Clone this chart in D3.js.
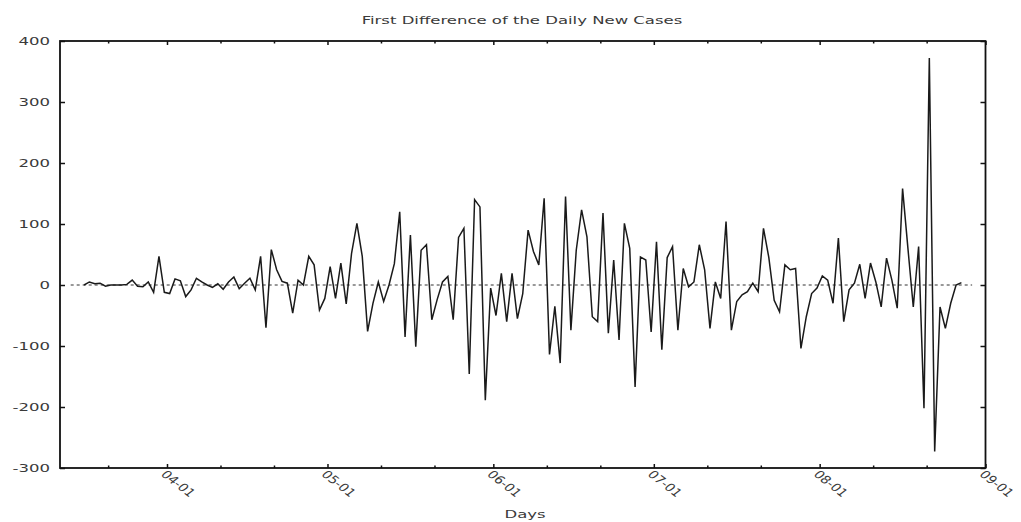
<!DOCTYPE html>
<html>
<head>
<meta charset="utf-8">
<script src="https://d3js.org/d3.v7.min.js"></script>
<style>
  body { margin: 0; background: #fff; }
  text { font-family: "DejaVu Sans", sans-serif; fill: #3a3a3a; }
</style>
</head>
<body>
<script>
// Chart data: first difference of daily new cases, one value per day from 03-16
var firstDay = "2020-03-16";
var values = [
  0, 5, 2, 3, -2, 0, 0, 0, 1, 8,
  -2, -3, 5, -12, 47, -12, -14, 10, 7, -19,
  -8, 11, 5, 0, -4, 2, -7, 5, 13, -6,
  3, 11, -8, 47, -70, 58, 25, 6, 3, -46,
  8, 0, 47, 33, -41, -22, 30, -22, 36, -31,
  52, 101, 47, -76, -30, 5, -27, 0, 35, 120,
  -85, 82, -101, 57, 66, -57, -24, 5, 14, -57,
  78, 93, -146, 140, 128, -189, -5, -50, 19, -60,
  19, -55, -14, 90, 55, 33, 142, -114, -35, -128,
  145, -74, 57, 123, 79, -52, -60, 118, -79, 41,
  -90, 101, 60, -167, 46, 41, -77, 71, -106, 45,
  63, -74, 27, -3, 5, 66, 25, -71, 5, -22,
  104, -74, -27, -16, -11, 3, -11, 93, 45, -25,
  -44, 33, 25, 27, -104, -52, -14, -5, 15, 8,
  -30, 77, -60, -8, 3, 34, -22, 36, 5, -36,
  44, 8, -38, 158, 60, -36, 63, -202, 372, -273,
  -36, -71, -30, 0, 4
];
var yTicks = [-300, -200, -100, 0, 100, 200, 300, 400];
var xTickLabels = ["04-01", "05-01", "06-01", "07-01", "08-01", "09-01"];
var xMinorTicks = ["03-21", "04-11", "04-21", "05-11", "05-21", "06-11", "06-21",
                   "07-11", "07-21", "08-11", "08-21"];

var svgWidth = 1021;
var svgHeight = 522;
var plot = { left: 60, right: 985.5, top: 41, bottom: 468 };
var stretch = 1.65; // the picture is wider than its text

var parseDay = d3.timeParse("%Y-%m-%d");
var start = parseDay(firstDay);
// each day is drawn at its middle (noon)
var data = values.map(function(v, i) {
  return { date: d3.timeHour.offset(d3.timeDay.offset(start, i), 12), value: v };
});

var svg = d3.select("body")
  .append("svg")
  .attr("width", svgWidth)
  .attr("height", svgHeight);

var xScale = d3.scaleTime()
  .domain([parseDay("2020-03-12"), parseDay("2020-09-01")])
  .range([plot.left, plot.right]);

var yScale = d3.scaleLinear()
  .domain([-300, 400])
  .range([plot.bottom, plot.top]);

// title
svg.append("text")
  .attr("transform", `translate(522, 23.5) scale(${stretch},1)`)
  .attr("text-anchor", "middle")
  .style("font-size", "10px")
  .text("First Difference of the Daily New Cases");

// zero line
svg.append("line")
  .attr("x1", xScale(d3.timeDay.offset(start, -2)))
  .attr("x2", xScale(d3.timeDay.offset(data[data.length - 1].date, 2)))
  .attr("y1", yScale(0))
  .attr("y2", yScale(0))
  .attr("stroke", "#333")
  .attr("stroke-width", 1)
  .attr("stroke-dasharray", "3,3");

// the series
var line = d3.line()
  .x(d => xScale(d.date))
  .y(d => yScale(d.value));

svg.append("path")
  .datum(data)
  .attr("d", line)
  .attr("fill", "none")
  .attr("stroke", "#1a1a1a")
  .attr("stroke-width", 1.5)
  .attr("stroke-linejoin", "miter");

// y ticks, inward on both sides
var leftAxis = d3.axisRight(yScale).tickValues(yTicks).tickSize(5).tickFormat("");
var rightAxis = d3.axisLeft(yScale).tickValues(yTicks).tickSize(5).tickFormat("");
svg.append("g").attr("transform", `translate(${plot.left},0)`).call(leftAxis);
svg.append("g").attr("transform", `translate(${plot.right},0)`).call(rightAxis);

// x ticks, inward on bottom and top
var majorDates = xTickLabels.map(s => parseDay("2020-" + s));
var minorDates = xMinorTicks.map(s => parseDay("2020-" + s));
svg.append("g").attr("transform", `translate(0,${plot.bottom})`)
  .call(d3.axisTop(xScale).tickValues(majorDates).tickSize(4).tickFormat(""));
svg.append("g").attr("transform", `translate(0,${plot.bottom})`)
  .call(d3.axisTop(xScale).tickValues(minorDates).tickSize(2.5).tickFormat(""));
svg.append("g").attr("transform", `translate(0,${plot.top})`)
  .call(d3.axisBottom(xScale).tickValues(majorDates).tickSize(4).tickFormat(""));
svg.append("g").attr("transform", `translate(0,${plot.top})`)
  .call(d3.axisBottom(xScale).tickValues(minorDates).tickSize(2.5).tickFormat(""));

svg.selectAll(".domain").remove();
svg.selectAll(".tick line").attr("stroke", "#111").attr("stroke-width", 1.5);

// frame
svg.append("rect")
  .attr("x", plot.left)
  .attr("y", plot.top)
  .attr("width", plot.right - plot.left)
  .attr("height", plot.bottom - plot.top)
  .attr("fill", "none")
  .attr("stroke", "#111")
  .attr("stroke-width", 1.8);

// y labels
svg.selectAll(".ylab")
  .data(yTicks)
  .enter()
  .append("text")
  .attr("class", "ylab")
  .attr("transform", d => `translate(50, ${yScale(d) + 3.5}) scale(${stretch},1)`)
  .attr("text-anchor", "end")
  .style("font-size", "10px")
  .text(d => d);

// x labels, rotated
svg.selectAll(".xlab")
  .data(majorDates)
  .enter()
  .append("text")
  .attr("class", "xlab")
  .attr("transform", d => `translate(${xScale(d) - 7}, 475) scale(1.3,1) rotate(45)`)
  .style("font-size", "11px")
  .text((d, i) => xTickLabels[i]);

svg.append("text")
  .attr("transform", `translate(525, 517.5) scale(${stretch},1)`)
  .attr("text-anchor", "middle")
  .style("font-size", "10px")
  .text("Days");
</script>
</body>
</html>
